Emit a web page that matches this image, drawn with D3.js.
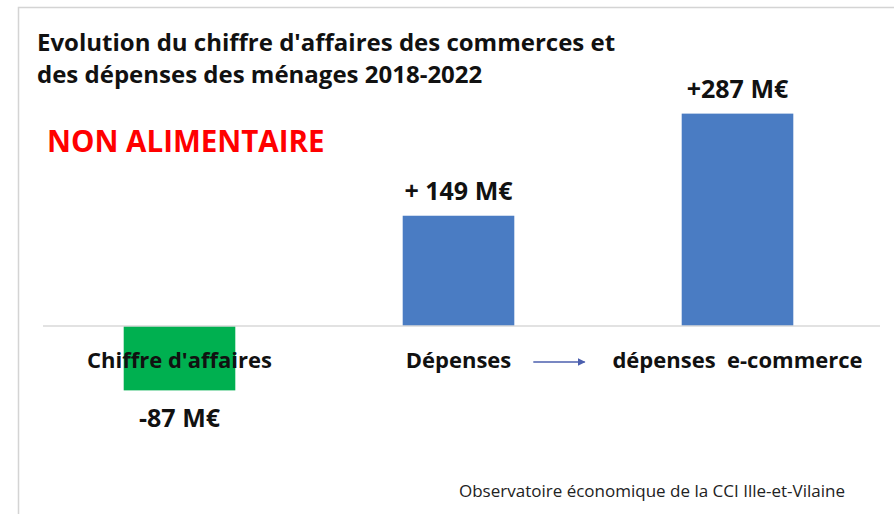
<!DOCTYPE html>
<html>
<head>
<meta charset="utf-8">
<script src="https://cdn.jsdelivr.net/npm/d3@7"></script>
<style>
  body { margin: 0; background: #fff; }
  text { font-family: "Open Sans", Lato, sans-serif; }
</style>
</head>
<body>
<script>
// data
var categories = ["Chiffre d'affaires", "Dépenses", "dépenses  e-commerce"];
var values = [-87, 149, 287];
var valueLabels = ["-87 M€", "+ 149 M€", "+287 M€"];
var barColors = ["#00b050", "#4a7cc3", "#4a7cc3"];
var titleLines = ["Evolution du chiffre d'affaires des commerces et", "des dépenses des ménages 2018-2022"];
var subtitle = "NON ALIMENTAIRE";
var source = "Observatoire économique de la CCI Ille-et-Vilaine";

var width = 894, height = 514;

var svg = d3.select("body").append("svg")
    .attr("width", width)
    .attr("height", height);

// light frame
svg.append("rect")
    .attr("x", 18.5).attr("y", 7.5)
    .attr("width", 890).attr("height", 520)
    .attr("fill", "#fff")
    .attr("stroke", "#d4d4d4").attr("stroke-width", 1.5);

var x = d3.scaleBand()
    .domain(categories)
    .range([40, 877])
    .paddingInner(0.6)
    .paddingOuter(0.3);

var y = d3.scaleLinear()
    .domain([-100, 300])
    .range([400, 104]);

// bars
svg.append("g").selectAll("rect")
    .data(categories)
    .enter().append("rect")
    .attr("x", function(d){ return x(d); })
    .attr("width", x.bandwidth())
    .attr("y", function(d, i){ return Math.min(y(values[i]), y(0)); })
    .attr("height", function(d, i){ return Math.abs(y(values[i]) - y(0)); })
    .attr("fill", function(d, i){ return barColors[i]; });

// zero line
svg.append("line")
    .attr("x1", 43).attr("x2", 880)
    .attr("y1", y(0)).attr("y2", y(0))
    .attr("stroke", "#d9d9d9").attr("stroke-width", 1.5);

// category labels
svg.append("g").selectAll("text")
    .data(categories)
    .enter().append("text")
    .attr("x", function(d){ return x(d) + x.bandwidth()/2; })
    .attr("y", 368)
    .attr("text-anchor", "middle")
    .style("white-space", "pre")
    .attr("font-size", 22)
    .attr("font-weight", "bold")
    .attr("fill", "#111")
    .text(function(d){ return d; });

// value labels
svg.append("g").selectAll("text")
    .data(categories)
    .enter().append("text")
    .attr("x", function(d){ return x(d) + x.bandwidth()/2; })
    .attr("y", function(d, i){ return values[i] >= 0 ? y(values[i]) - 16 : y(values[i]) + 37; })
    .attr("text-anchor", "middle")
    .attr("font-size", 25)
    .attr("font-weight", "bold")
    .attr("fill", "#111")
    .text(function(d, i){ return valueLabels[i]; });

// arrow between Dépenses and e-commerce
var defs = svg.append("defs");
defs.append("marker")
    .attr("id", "arrowhead")
    .attr("viewBox", "0 0 10 10")
    .attr("refX", 9).attr("refY", 5)
    .attr("markerWidth", 5).attr("markerHeight", 5)
    .attr("orient", "auto")
  .append("path")
    .attr("d", "M0,0 L10,5 L0,10 z")
    .attr("fill", "#4b5fae");

svg.append("line")
    .attr("x1", x(categories[1]) + x.bandwidth() + 19)
    .attr("x2", x(categories[2]) - 97)
    .attr("y1", 362).attr("y2", 362)
    .attr("stroke", "#4b5fae").attr("stroke-width", 1.6)
    .attr("marker-end", "url(#arrowhead)");

// title
svg.append("g").selectAll("text")
    .data(titleLines)
    .enter().append("text")
    .attr("x", 37)
    .attr("y", function(d, i){ return 51 + i*32; })
    .attr("font-size", 24)
    .attr("font-weight", "bold")
    .attr("fill", "#111")
    .text(function(d){ return d; });

svg.append("text")
    .attr("x", 47).attr("y", 152)
    .attr("font-size", 29.5)
    .attr("font-weight", "bold")
    .attr("fill", "#ff0000")
    .text(subtitle);

svg.append("text")
    .attr("x", 459).attr("y", 497)
    .attr("font-size", 17)
    .attr("fill", "#222")
    .text(source);
</script>
</body>
</html>
